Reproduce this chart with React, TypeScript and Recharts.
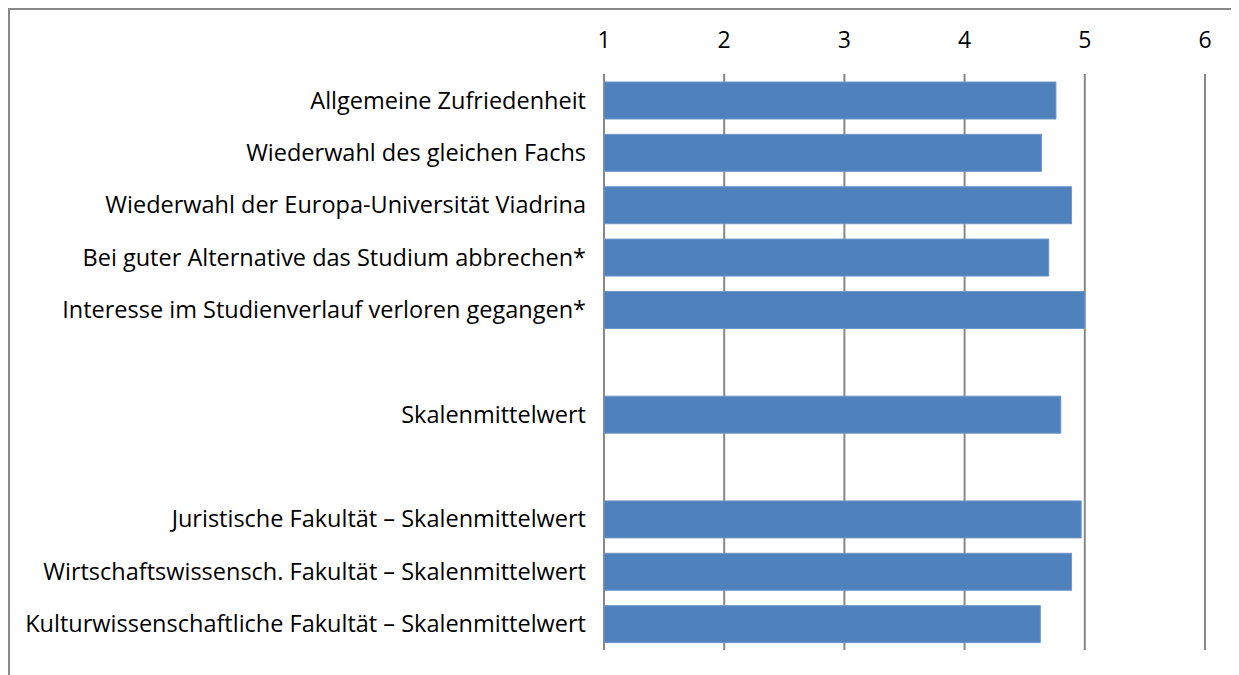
import { Bar, BarChart, CartesianGrid, XAxis, YAxis } from 'recharts'

const categories = [
  'Allgemeine Zufriedenheit',
  'Wiederwahl des gleichen Fachs',
  'Wiederwahl der Europa-Universität Viadrina',
  'Bei guter Alternative das Studium abbrechen*',
  'Interesse im Studienverlauf verloren gegangen*',
  '',
  'Skalenmittelwert',
  '',
  'Juristische Fakultät – Skalenmittelwert',
  'Wirtschaftswissensch. Fakultät – Skalenmittelwert',
  'Kulturwissenschaftliche Fakultät – Skalenmittelwert',
]

const values: (number | null)[] = [4.76, 4.64, 4.89, 4.7, 5.0, null, 4.8, null, 4.97, 4.89, 4.63]

const xTicks = [1, 2, 3, 4, 5, 6]

const data = categories.map((name, i) => ({ id: 'r' + i, name, value: values[i] }))

const font = '"Open Sans", sans-serif'

export default function App() {
  return (
    <div
      style={{
        width: 1223,
        height: 667,
        borderTop: '2px solid #888888',
        borderLeft: '2px solid #888888',
        fontFamily: font,
      }}
    >
      <style>{'html, body { overflow: hidden; }'}</style>
      <BarChart
        width={1221}
        height={655}
        data={data}
        layout="vertical"
        margin={{ top: 34, right: 26, left: 0, bottom: 15 }}
      >
        <CartesianGrid horizontal={false} stroke="#888888" strokeWidth={2} />
        <XAxis
          type="number"
          orientation="top"
          domain={[1, 6]}
          ticks={xTicks}
          axisLine={false}
          tickLine={false}
          tickMargin={20}
          height={30}
          tick={{ fill: '#000', fontSize: 23, fontFamily: font }}
        />
        <YAxis
          type="category"
          dataKey="id"
          width={594}
          axisLine={false}
          tickLine={false}
          tickMargin={12}
          tickFormatter={(v: string) => categories[Number(v.slice(1))]}
          tick={{ fill: '#000', fontSize: 23.5, fontFamily: font }}
          interval={0}
        />
        <Bar
          dataKey="value"
          fill="#4F81BD"
          stroke="#7096C8"
          strokeWidth={1}
          barSize={37}
          isAnimationActive={false}
        />
      </BarChart>
    </div>
  )
}
